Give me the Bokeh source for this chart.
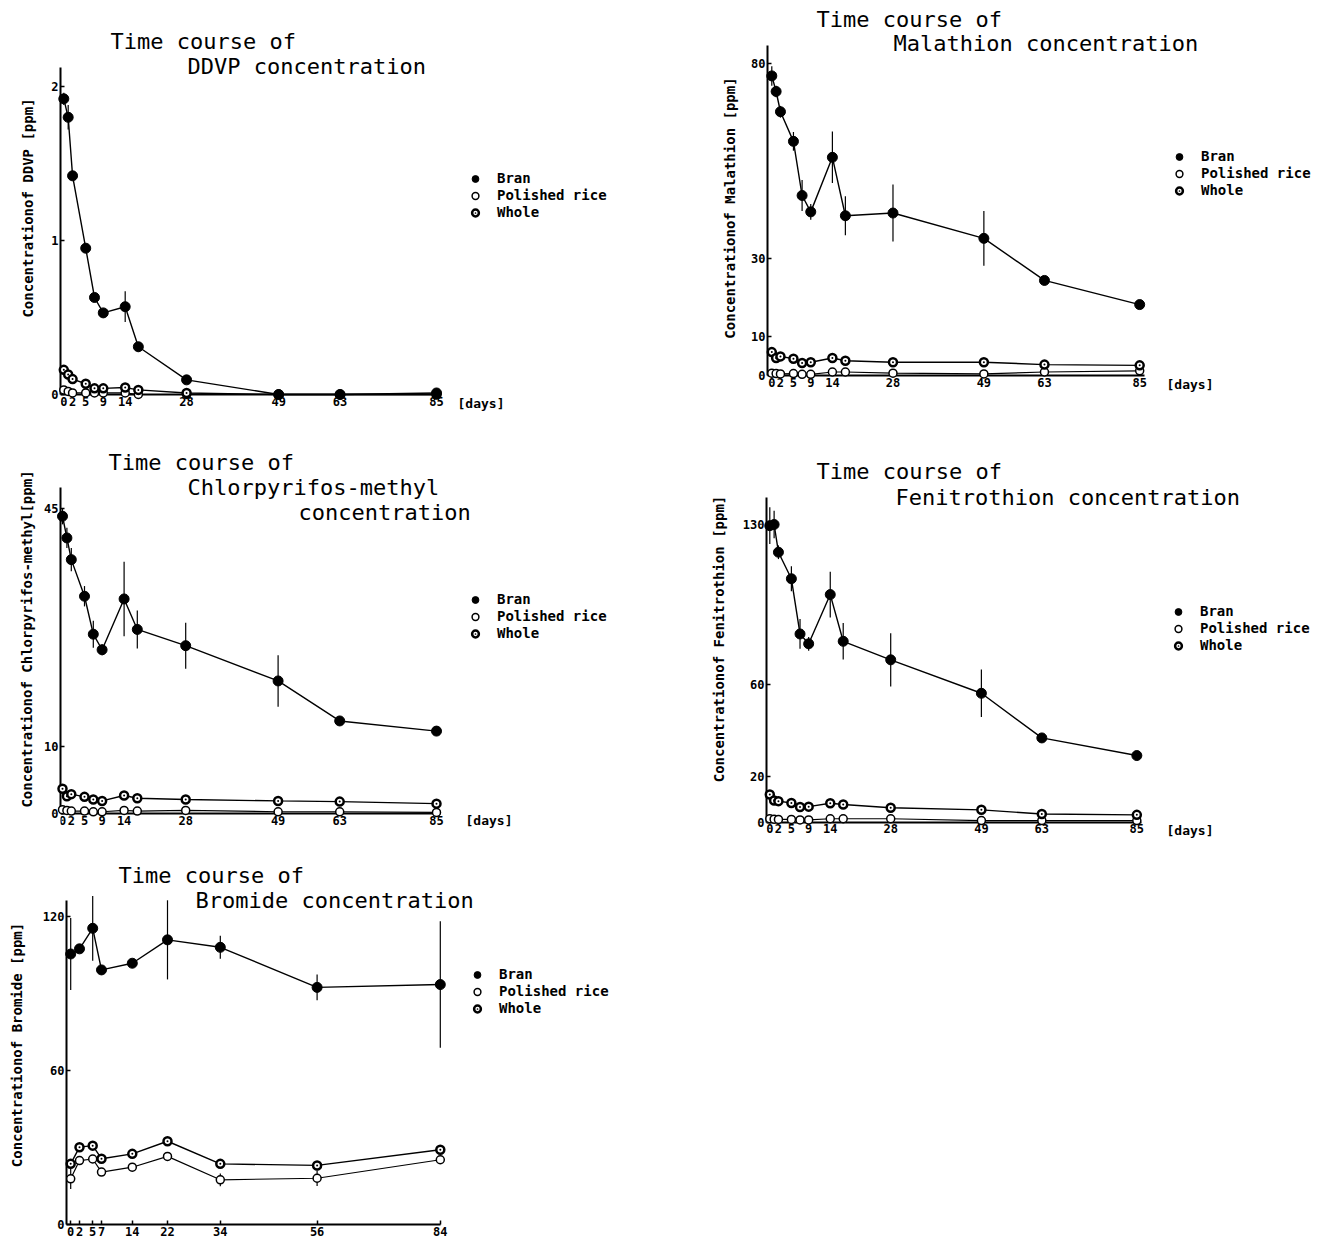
from bokeh.plotting import figure
from bokeh.models import Range1d, FixedTicker, Label, Legend, LegendItem, ColumnDataSource
from bokeh.layouts import column, row
from bokeh.embed import file_html
from bokeh.resources import INLINE

# ---------------- data ----------------
days_main = [0, 1, 2, 5, 7, 9, 14, 17, 28, 49, 63, 85]
day_ticks_main = [0, 2, 5, 9, 14, 28, 49, 63, 85]
days_bromide = [0, 2, 5, 7, 14, 22, 34, 56, 84]
day_ticks_bromide = [0, 2, 5, 7, 14, 22, 34, 56, 84]
series_names = ["Bran", "Polished rice", "Whole"]

ddvp_bran = [1.92, 1.80, 1.42, 0.95, 0.63, 0.53, 0.57, 0.31, 0.095, 0.0, 0.0, 0.01]
ddvp_bran_err = [0.04, 0.08, 0.03, 0.03, 0.03, 0.02, 0.10, 0.03, 0.01, 0.0, 0.0, 0.0]
ddvp_polished = [0.03, 0.02, 0.01, 0.01, 0.01, 0.01, 0.01, 0.0, 0.0, 0.0, 0.0, 0.0]
ddvp_whole = [0.16, 0.13, 0.10, 0.07, 0.04, 0.04, 0.045, 0.03, 0.01, 0.0, 0.0, 0.0]
ddvp_yticks = [0, 1, 2]

mala_bran = [76.9, 72.9, 67.7, 60.1, 46.2, 42.0, 56.0, 41.0, 41.7, 35.2, 24.4, 18.2]
mala_bran_err = [2.5, 1.5, 1.5, 2.4, 4.0, 2.0, 6.6, 5.0, 7.3, 7.0, 0.5, 0.5]
mala_polished = [0.6, 0.5, 0.4, 0.5, 0.3, 0.3, 0.9, 0.9, 0.6, 0.4, 0.9, 1.2]
mala_whole = [6.0, 4.5, 4.9, 4.3, 3.2, 3.4, 4.5, 3.8, 3.4, 3.4, 2.8, 2.6]
mala_yticks = [0, 10, 30, 80]

chlor_bran = [43.9, 40.7, 37.5, 32.1, 26.5, 24.2, 31.7, 27.2, 24.8, 19.6, 13.7, 12.2]
chlor_bran_err = [1.2, 1.5, 1.7, 1.5, 2.0, 0.8, 5.5, 2.8, 3.4, 3.8, 0.3, 0.3]
chlor_polished = [0.6, 0.5, 0.4, 0.4, 0.3, 0.3, 0.5, 0.4, 0.5, 0.3, 0.3, 0.2]
chlor_whole = [3.7, 2.6, 2.9, 2.5, 2.1, 1.9, 2.7, 2.3, 2.1, 1.9, 1.8, 1.5]
chlor_yticks = [0, 10, 45]

feni_bran = [129.5, 130.0, 117.9, 106.3, 82.2, 77.9, 99.4, 79.0, 70.9, 56.3, 36.8, 29.1]
feni_bran_err = [8.0, 6.0, 3.0, 5.5, 6.5, 3.0, 10.0, 8.0, 11.6, 10.4, 0.5, 0.5]
feni_polished = [1.5, 1.3, 1.2, 1.2, 1.0, 1.0, 1.5, 1.5, 1.5, 0.7, 0.7, 0.7]
feni_whole = [12.1, 9.5, 9.2, 8.4, 6.6, 6.8, 8.3, 7.7, 6.3, 5.4, 3.6, 3.2]
feni_yticks = [0, 20, 60, 130]

brom_bran = [105.3, 107.3, 115.3, 99.1, 101.7, 110.8, 107.9, 92.3, 93.4]
brom_bran_err = [14.0, 0.5, 12.6, 0.5, 0.5, 15.4, 4.5, 5.0, 24.6]
brom_polished = [17.8, 24.9, 25.5, 20.4, 22.3, 26.5, 17.4, 18.0, 25.2]
brom_polished_err = [4.0, 0.0, 0.0, 0.0, 0.0, 0.0, 2.5, 3.0, 0.0]
brom_whole = [23.6, 30.1, 30.7, 25.6, 27.5, 32.4, 23.6, 23.0, 29.1]
brom_yticks = [0, 60, 120]

FONT = "DejaVu Sans Mono"

# ---------------- panel geometry (pixels inside each figure) ----------------
panels = [
    dict(W=690, H=432, fl=60, fr=680, ft=3, fb=412, x0=63.3, kx=4.385,
         y0=394, ky=154.0, ytop=67, xend=86, fixed_x=True, days=days_main,
         ticks=day_ticks_main, yticks=ddvp_yticks, bran=ddvp_bran, bran_err=ddvp_bran_err,
         polished=ddvp_polished, polished_err=None, whole=ddvp_whole,
         ylabel="Concentrationof DDVP [ppm]", lab_standoff=12,
         titles=[("Time course of", 110, 41), ("DDVP concentration", 187, 66)],
         unit="[days]", unit_pos=(457, 403), leg=(475, 178)),
    dict(W=637, H=432, fl=77, fr=637, ft=3, fb=412, x0=81.3, kx=4.328,
         y0=375, ky=3.896, ytop=45, xend=86, fixed_x=True, days=days_main,
         ticks=day_ticks_main, yticks=mala_yticks, bran=mala_bran, bran_err=mala_bran_err,
         polished=mala_polished, polished_err=None, whole=mala_whole,
         ylabel="Concentrationof Malathion [ppm]", lab_standoff=10,
         titles=[("Time course of", 126, 19), ("Malathion concentration", 203, 43)],
         unit="[days]", unit_pos=(476, 384), leg=(489, 156)),
    dict(W=690, H=428, fl=60, fr=680, ft=5, fb=408, x0=62.0, kx=4.40,
         y0=381.3, ky=6.778, ytop=54.7, xend=86, fixed_x=True, days=days_main,
         ticks=day_ticks_main, yticks=chlor_yticks, bran=chlor_bran, bran_err=chlor_bran_err,
         polished=chlor_polished, polished_err=None, whole=chlor_whole,
         ylabel="Concentrationof Chlorpyrifos-methyl[ppm]", lab_standoff=6,
         titles=[("Time course of", 108, 30), ("Chlorpyrifos-methyl", 187, 55),
                 ("concentration", 298, 80)],
         unit="[days]", unit_pos=(465, 388), leg=(475, 167)),
    dict(W=637, H=428, fl=76, fr=637, ft=5, fb=408, x0=79.3, kx=4.318,
         y0=389.7, ky=2.29, ytop=64.7, xend=86, fixed_x=True, days=days_main,
         ticks=day_ticks_main, yticks=feni_yticks, bran=feni_bran, bran_err=feni_bran_err,
         polished=feni_polished, polished_err=None, whole=feni_whole,
         ylabel="Concentrationof Fenitrothion [ppm]", lab_standoff=13,
         titles=[("Time course of", 126, 39), ("Fenitrothion concentration", 205, 65)],
         unit="[days]", unit_pos=(476, 398), leg=(488, 179)),
    dict(W=690, H=379, fl=66, fr=680, ft=5, fb=364, x0=70.2, kx=4.40,
         y0=364, ky=2.569, ytop=40, xend=84, fixed_x=False, days=days_bromide,
         ticks=day_ticks_bromide, yticks=brom_yticks, bran=brom_bran, bran_err=brom_bran_err,
         polished=brom_polished, polished_err=brom_polished_err, whole=brom_whole,
         ylabel="Concentrationof Bromide [ppm]", lab_standoff=15,
         titles=[("Time course of", 118, 15), ("Bromide concentration", 195, 40)],
         unit="[Days]", unit_pos=(452, 371), leg=(477, 114)),
]


def build(g):
    dx = lambda px: (px - g["x0"]) / g["kx"]
    dy = lambda py: (g["y0"] - py) / g["ky"]
    p = figure(width=g["W"], height=g["H"], output_backend="svg", toolbar_location=None,
               x_range=Range1d(dx(g["fl"]), dx(g["fr"])),
               y_range=Range1d(dy(g["fb"]), dy(g["ft"])),
               min_border_left=g["fl"], min_border_right=g["W"] - g["fr"],
               min_border_top=g["ft"], min_border_bottom=g["H"] - g["fb"])
    p.outline_line_color = None
    p.xgrid.grid_line_color = None
    p.ygrid.grid_line_color = None

    xa = p.xaxis[0]
    if g["fixed_x"]:
        xa.fixed_location = 0
    xa.bounds = (dx(g["fl"]), g["xend"])
    xa.ticker = FixedTicker(ticks=g["ticks"])
    ya = p.yaxis[0]
    ya.bounds = (0, dy(g["ytop"]))
    ya.ticker = FixedTicker(ticks=g["yticks"])
    for a in (xa, ya):
        a.axis_line_width = 2
        a.axis_line_color = "black"
        a.major_tick_in = 4
        a.major_tick_out = 0
        a.major_tick_line_width = 1.5
        a.major_tick_line_color = "black"
        a.minor_tick_line_color = None
        a.major_label_text_font = FONT
        a.major_label_text_font_style = "bold"
        a.major_label_text_font_size = "12px"
        a.major_label_text_color = "black"
        a.major_label_standoff = 2
    ya.axis_label = g["ylabel"]
    ya.axis_label_text_font = FONT
    ya.axis_label_text_font_style = "bold"
    ya.axis_label_text_font_size = "14px"
    ya.axis_label_text_color = "black"
    ya.axis_label_standoff = g["lab_standoff"]

    days = g["days"]

    def series(vals, errs, marker, size, fill, lw, mlw):
        src = ColumnDataSource(dict(x=days, y=vals))
        p.line("x", "y", source=src, line_color="black", line_width=lw, level="overlay")
        if errs is not None:
            lo = [v - e for v, e in zip(vals, errs)]
            hi = [v + e for v, e in zip(vals, errs)]
            esrc = ColumnDataSource(dict(x=days, lo=lo, hi=hi))
            p.segment("x", "lo", "x", "hi", source=esrc, line_color="black",
                      line_width=1.2, level="overlay")
        return p.scatter("x", "y", source=src, marker=marker, size=size,
                         fill_color=fill, line_color="black", line_width=mlw,
                         level="overlay")

    r_pol = series(g["polished"], g["polished_err"], "circle", 8, "white", 1.2, 1.5)
    r_who = series(g["whole"], None, "circle_dot", 8, "white", 1.4, 2.5)
    r_bra = series(g["bran"], g["bran_err"], "circle", 10, "black", 1.4, 1)

    for text, px, py in g["titles"]:
        p.add_layout(Label(x=dx(px), y=dy(py), text=text, text_font=FONT,
                           text_font_size="22px", text_align="left",
                           text_baseline="middle", text_color="black"))
    ux, uy = g["unit_pos"]
    p.add_layout(Label(x=dx(ux), y=dy(uy), text=g["unit"], text_font=FONT,
                       text_font_size="13px", text_font_style="bold",
                       text_align="left", text_baseline="middle", text_color="black"))

    mx, my = g["leg"]
    top = my - 8.5
    bottom = top + 51
    legend = Legend(items=[LegendItem(label=series_names[0], renderers=[r_bra]),
                           LegendItem(label=series_names[1], renderers=[r_pol]),
                           LegendItem(label=series_names[2], renderers=[r_who])],
                    location=(mx - 10 - g["fl"], g["fb"] - bottom),
                    border_line_color=None, background_fill_alpha=0,
                    padding=0, margin=0, spacing=0,
                    glyph_width=20, glyph_height=17, label_height=17,
                    label_standoff=12, label_text_font=FONT,
                    label_text_color="black",
                    label_text_font_style="bold", label_text_font_size="14px")
    p.add_layout(legend)
    return p


figs = [build(g) for g in panels]
layout = column(row(figs[0], figs[1]), row(figs[2], figs[3]), row(figs[4]))

open("out.html", "w").write(file_html(layout, INLINE))
